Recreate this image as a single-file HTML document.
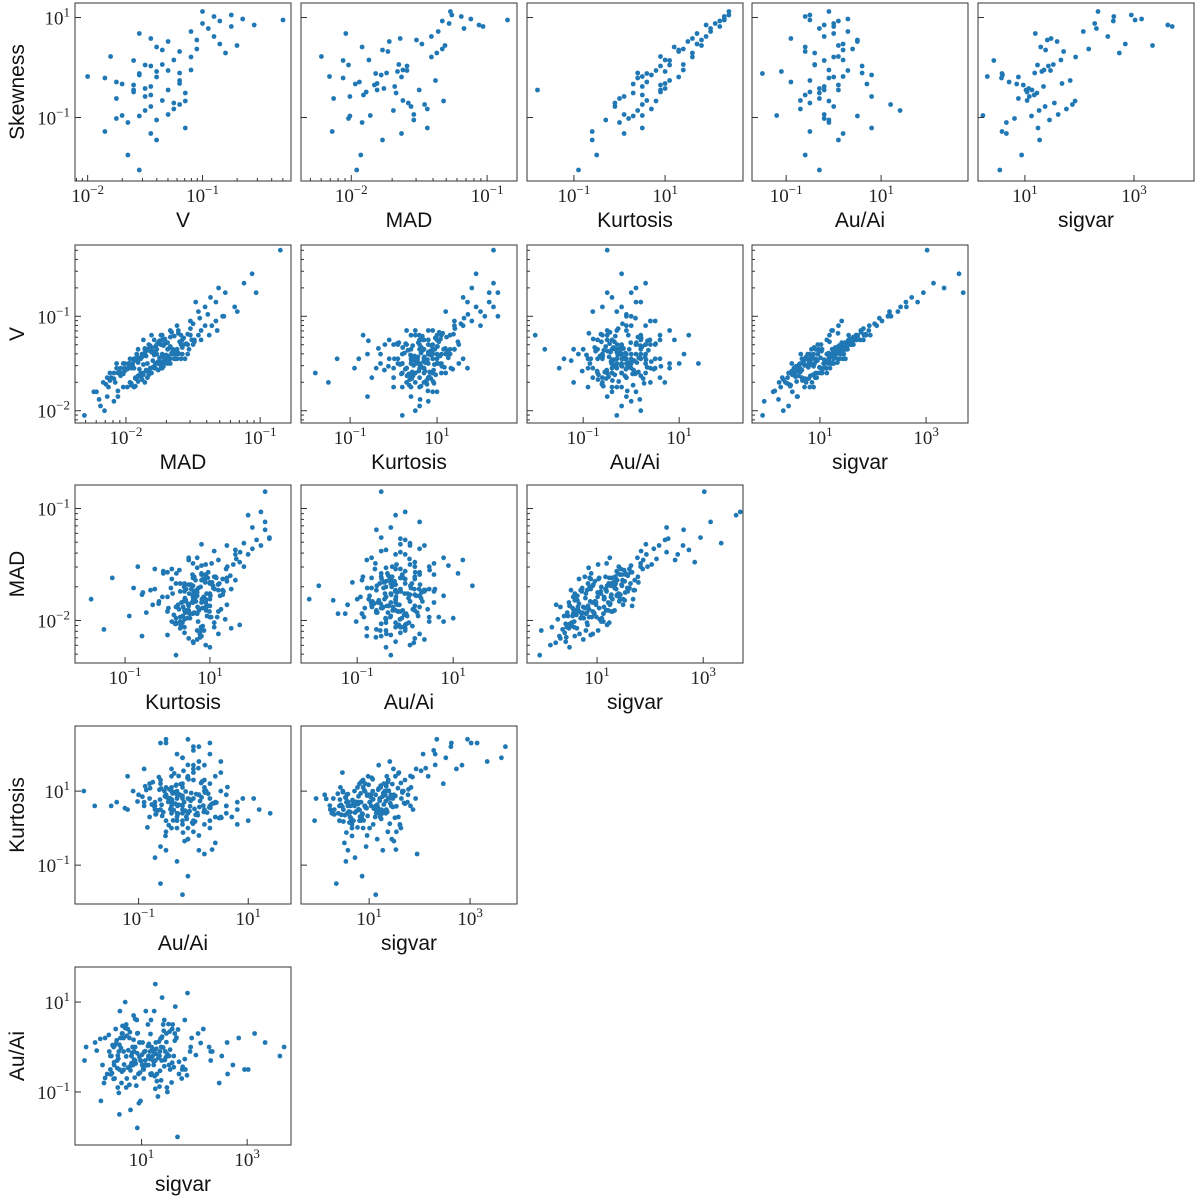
<!DOCTYPE html>
<html><head><meta charset="utf-8"><style>
html,body{margin:0;padding:0;background:#fff;}
svg{display:block;}
</style></head><body>
<svg id="chart" width="1200" height="1197" xmlns="http://www.w3.org/2000/svg"></svg>
<script>
// Per-object log10 values
const logV = [-1.45,-1.60,-1.30,-1.75,-1.20,-1.50,-1.40,-1.65,-1.10,-1.55,-1.35,-1.85,-1.25,-1.45,-0.95,-1.50,-1.40,-1.70,-1.30,-1.60,-0.85,-1.45,-1.55,-1.20,-1.95,-1.35,-1.50,-1.15,-1.65,-1.40,-0.75,-1.55,-1.30,-1.80,-1.45,-1.05,-1.60,-1.25,-1.50,-1.70,-1.35,-0.90,-1.45,-1.60,-1.20,-2.05,-1.40,-1.55,-1.10,-1.50,-0.65,-1.75,-1.30,-1.45,-1.65,-1.20,-1.35,-1.55,-0.80,-1.40,-1.85,-1.25,-1.50,-1.00,-1.60,-1.35,-1.45,-1.15,-1.70,-1.40,-0.70,-1.55,-1.30,-1.90,-1.45,-1.20,-1.60,-0.95,-1.50,-1.35,-1.75,-1.10,-1.45,-1.25,-1.65,-0.55,-1.40,-1.55,-1.30,-1.80,-1.15,-1.50,-0.90,-1.60,-1.35,-1.45,-2.00,-1.25,-1.05,-1.55,-1.40,-0.30,-1.70,-1.20,-1.50,-0.85,-1.35,-1.60,-1.30,-1.45,-1.00,-1.75,-1.40,-1.15,-1.55,-0.75,-1.35,-1.65,-1.25,-1.50,
-1.52,-1.38,-1.61,-1.27,-1.44,-1.71,-1.33,-1.49,-1.58,-1.22,-1.41,-1.66,-1.36,-1.53,-1.18,-1.47,-1.62,-1.29,-1.43,-1.56,-1.31,-1.74,-1.39,-1.51,-1.24,-1.46,-1.68,-1.34,-1.57,-1.42,-1.13,-1.48,-1.63,-1.37,-1.54,-1.28,-1.45,-1.79,-1.32,-1.59,-1.21,-1.44,-1.67,-1.35,-1.50,-1.26,-1.40,-1.58,-1.08,-1.47,-1.64,-1.30,-1.53,-1.39,-1.72,-1.23,-1.46,-1.55,-1.33,-1.61,-1.17,-1.43,-1.69,-1.36,-1.49,-1.27,-1.52,-1.41,-1.88,-1.34,-1.57,-1.25,-1.45,-1.62,-1.38,-1.02,-1.48,-1.31,-1.56,-1.42,-1.20,-1.51,-1.66,-1.37,-1.44,-1.29,-1.59,-1.35,-0.98,-1.47,-1.73,-1.32,-1.54,-1.40,-1.19,-1.63,-1.46,-1.28,-1.50,-1.39];
const logMAD = [-1.68,-2.03,-1.50,-2.13,-1.73,-1.78,-1.54,-2.14,-1.41,-2.01,-1.53,-2.06,-1.87,-1.71,-1.17,-2.01,-1.73,-1.86,-1.74,-1.89,-1.33,-1.56,-1.94,-1.74,-2.19,-1.65,-1.98,-1.32,-1.93,-1.61,-1.26,-1.82,-1.57,-2.22,-1.67,-1.52,-1.81,-1.44,-2.07,-1.97,-1.81,-1.41,-1.63,-2.09,-1.46,-2.31,-1.92,-1.73,-1.62,-1.84,-1.12,-1.94,-1.83,-1.59,-2.11,-1.38,-1.69,-2.04,-1.37,-1.88,-2.14,-1.51,-1.76,-1.28,-1.87,-1.77,-1.62,-1.67,-2.17,-1.66,-1.31,-1.79,-1.72,-2.09,-1.91,-1.52,-2.06,-1.46,-1.69,-1.84,-2.02,-1.36,-1.94,-1.58,-1.84,-1.06,-1.63,-2.07,-1.59,-2.24,-1.44,-1.72,-1.19,-1.83,-1.91,-1.64,-2.16,-1.79,-1.33,-1.96,-1.58,-0.85,-2.08,-1.81,-1.67,-1.48,-1.62,-2.12,-1.54,-1.97,-1.27,-1.99,-1.77,-1.61,-1.78,-1.03,-1.86,-1.92,-1.49,-2.02,
-1.74,-1.81,-2.02,-1.49,-1.92,-1.96,-1.58,-1.91,-1.84,-1.67,-1.70,-2.09,-1.83,-1.79,-1.61,-1.94,-1.87,-1.55,-1.88,-1.99,-1.72,-1.93,-1.66,-1.95,-1.71,-1.68,-2.12,-1.86,-1.76,-1.85,-1.52,-1.73,-2.04,-1.63,-1.97,-1.69,-1.89,-2.06,-1.78,-1.82,-1.64,-1.90,-1.88,-1.62,-1.98,-1.75,-1.65,-2.01,-1.50,-1.80,-1.89,-1.77,-1.72,-1.86,-2.15,-1.57,-1.93,-1.74,-1.81,-2.03,-1.66,-1.72,-1.91,-1.84,-1.71,-1.60,-1.98,-1.79,-2.20,-1.68,-1.85,-1.73,-1.92,-1.83,-1.64,-1.45,-1.76,-1.82,-1.90,-1.69,-1.59,-1.87,-1.93,-1.78,-1.75,-1.71,-2.05,-1.62,-1.39,-1.94,-1.96,-1.67,-1.80,-1.88,-1.54,-1.91,-1.70,-1.76,-1.97,-1.61];
const logKurt = [0.50,0.20,0.90,0.00,1.30,0.60,-0.30,0.80,1.60,0.30,0.70,0.40,1.00,-0.80,2.00,0.10,1.20,0.50,0.30,0.90,2.20,-0.10,0.70,0.40,0.60,1.40,0.20,0.80,-0.50,1.10,2.40,0.60,0.00,0.90,0.40,1.80,-1.80,0.70,1.50,0.30,0.90,1.90,0.10,0.70,0.50,0.20,1.20,-0.40,1.40,0.80,2.30,0.60,-0.20,0.90,0.40,1.10,0.60,1.70,1.60,0.20,-0.60,0.80,1.00,2.10,0.50,1.30,-1.30,0.30,0.70,1.00,1.80,0.00,1.50,0.80,0.50,-0.70,1.10,1.20,0.40,0.90,0.20,2.00,0.70,-0.10,0.60,1.90,1.30,0.30,0.80,1.00,0.50,-0.30,2.30,0.90,0.40,1.60,0.50,0.60,1.40,-0.90,0.80,2.30,-1.50,1.00,0.20,1.70,0.60,1.20,0.10,1.00,2.40,0.40,-0.60,0.90,0.70,2.20,1.40,0.00,0.60,1.10,
0.62,0.81,0.35,1.04,0.47,0.93,0.21,0.74,0.58,1.22,0.39,0.86,0.67,-0.12,1.13,0.52,0.97,0.28,0.71,1.36,0.44,0.63,0.89,0.15,1.08,0.55,0.76,-0.35,0.92,0.48,1.41,0.69,0.31,0.84,1.17,0.57,0.02,0.79,1.01,0.43,0.66,1.26,0.37,0.95,0.53,-0.58,0.88,0.72,1.55,0.41,0.82,0.60,1.11,0.25,0.77,0.96,0.49,1.32,0.64,0.18,1.05,0.56,0.91,0.33,0.73,1.48,0.46,0.85,0.61,1.19,-0.21,0.68,0.99,0.38,0.80,1.62,0.51,0.87,0.27,1.07,0.59,0.94,0.42,1.24,0.70,0.08,0.83,1.15,1.71,0.54,0.36,1.00,0.65,0.90,1.38,0.45,0.78,0.12,1.03,0.63];
const logAuAi = [-0.20,-0.50,0.10,-0.30,-0.60,0.30,-0.10,-0.80,0.00,0.50,-0.40,-0.10,0.20,-0.70,-0.30,0.80,-0.20,-1.20,0.40,-0.50,0.10,0.00,-0.90,0.60,-0.20,-0.40,1.00,-0.10,-0.60,0.20,-0.50,-1.50,0.30,0.10,-0.30,0.50,-0.20,-0.70,0.00,0.70,-1.00,-0.20,0.20,-0.40,1.20,-0.30,-0.60,0.40,-0.10,-0.20,0.30,-0.90,0.10,0.60,-0.10,-0.50,-1.80,0.00,-0.40,0.30,-0.50,0.90,-0.30,0.00,-0.70,0.20,-0.10,-0.30,0.40,-1.10,0.10,-0.40,0.50,0.00,-0.60,0.20,-0.20,-0.80,1.40,-0.30,-0.20,0.30,-1.40,-0.50,0.60,-0.20,0.00,-0.80,0.30,-0.40,0.80,-0.10,-0.60,0.10,-0.20,-0.90,0.20,-0.40,0.40,-0.30,1.10,-0.50,-0.60,-2.00,0.00,0.20,-0.70,0.30,-0.20,0.50,-0.10,-0.40,0.10,-0.50,0.80,0.00,-1.20,-0.10,0.60,-0.40,
-0.21,-0.43,0.08,-0.62,-0.15,0.27,-0.37,-0.05,-0.71,0.14,-0.28,-0.52,0.36,-0.19,-0.88,0.02,-0.34,0.51,-0.46,-0.11,0.19,-0.58,-0.24,-0.02,-0.79,0.31,-0.39,-0.16,0.05,-0.65,-0.27,0.42,-0.13,-0.49,-0.31,0.11,-0.84,-0.08,0.23,-0.55,-0.33,0.16,-0.69,-0.04,-0.41,0.34,-0.22,-1.02,-0.18,0.07,-0.47,-0.29,0.62,-0.12,-0.61,0.21,-0.36,-0.09,-0.76,0.03,-0.44,0.29,-0.26,-0.57,0.12,-0.35,-0.07,-0.93,0.18,-0.23,-0.51,0.39,-0.14,-0.68,-0.30,0.09,-0.42,-0.20,0.47,-0.59,-0.06,-0.38,0.25,-0.74,-0.17,-0.45,0.15,-0.32,-0.10,-1.25,0.04,-0.53,0.33,-0.25,-0.63,0.20,-0.40,-0.01,-0.86,-0.27];
const logSigvar = [1.34,0.41,1.02,0.88,1.71,0.63,1.45,0.29,1.93,1.12,0.84,0.57,1.66,0.72,2.31,1.08,0.81,0.23,1.58,1.04,2.62,1.37,0.55,1.18,0.41,1.52,0.69,1.92,0.94,0.77,2.95,0.58,1.63,0.12,1.26,1.41,1.13,1.76,0.47,0.85,1.49,2.52,0.66,1.02,1.87,-0.08,1.29,0.51,1.35,1.21,3.14,0.71,0.96,1.43,0.39,1.83,0.92,1.19,2.73,0.64,0.58,1.64,1.07,2.28,0.49,1.38,0.86,1.22,0.74,1.31,3.34,1.01,1.59,-0.05,1.17,1.95,0.43,2.47,1.26,0.98,0.81,2.07,0.79,1.54,0.91,3.62,0.88,0.62,1.47,0.48,1.24,1.16,2.63,0.97,1.33,1.48,0.31,1.13,2.17,0.54,1.39,3.02,0.35,1.68,0.83,2.84,1.04,0.92,1.61,0.71,2.34,0.26,1.27,1.77,0.59,3.70,0.98,0.66,1.82,1.23,
0.71,1.43,0.52,1.18,1.27,0.38,0.89,1.21,0.47,1.63,0.86,0.79,1.42,0.55,1.34,1.12,0.48,1.51,0.74,1.05,1.36,0.44,1.32,0.61,1.57,0.93,0.67,1.49,0.58,1.25,1.82,0.69,0.82,1.03,0.99,1.47,0.77,0.15,1.39,0.63,1.71,0.85,0.31,1.28,1.09,1.53,0.96,0.57,2.03,1.14,0.54,1.44,0.88,1.24,0.42,1.66,0.81,1.07,1.29,0.49,1.78,1.17,0.56,0.97,1.33,1.58,0.75,1.26,0.22,1.46,0.66,1.69,0.92,0.87,1.38,2.12,0.79,1.52,0.64,1.19,1.54,0.83,0.72,1.37,1.01,1.61,0.53,1.23,2.31,0.95,0.45,1.35,0.78,1.13,1.86,0.60,1.08,1.41,0.90,1.16];
// skewness measured only for a subset (null = not measured)
const logSkew = [-0.38,null,-0.45,-0.62,0.32,null,-1.05,null,0.21,-0.97,null,-0.21,0.15,null,0.78,-0.58,null,-0.96,null,-0.49,0.93,-0.78,null,-0.11,null,0.06,null,-0.67,-1.75,null,1.05,-0.12,null,0.22,null,0.55,-0.45,-0.83,null,-0.33,null,0.62,-1.32,null,-0.74,null,0.41,null,-0.05,null,0.97,-0.29,null,0.03,null,-0.26,null,0.68,0.29,null,-1.28,null,-0.42,0.88,null,0.35,null,-0.51,null,-0.08,0.44,null,0.52,null,-0.55,null,0.14,null,-0.86,null,-1.02,0.72,null,-0.71,null,0.85,-0.19,null,-0.06,null,-1.21,null,1.02,-0.35,null,0.58,-0.18,null,0.37,-2.05,null,0.95,null,-0.32,null,0.47,-0.66,null,-0.94,null,1.12,null,-1.45,null,-0.15,0.82,null,-1.10,null,0.05,
null,null,null,null,null,null,null,null,null,null,null,null,null,null,null,null,null,null,null,null,null,null,null,null,null,null,null,null,null,null,null,null,null,null,null,null,null,null,null,null,null,null,null,null,null,null,null,null,null,null,null,null,null,null,null,null,null,null,null,null,null,null,null,null,null,null,null,null,null,null,null,null,null,null,null,null,null,null,null,null,null,null,null,null,null,null,null,null,null,null,null,null,null,null,null,null,null,null,null,null];

const vars = {V:logV, MAD:logMAD, Kurtosis:logKurt, 'Au/Ai':logAuAi, sigvar:logSigvar, Skewness:logSkew};
const rowVars = ['Skewness','V','MAD','Kurtosis','Au/Ai'];
const colVarsByRow = [['V','MAD','Kurtosis','Au/Ai','sigvar'],['MAD','Kurtosis','Au/Ai','sigvar'],['Kurtosis','Au/Ai','sigvar'],['Au/Ai','sigvar'],['sigvar']];
const yLims = [[-2.27,1.29],[-2.13,-0.245],[-2.38,-0.79],[-2.05,2.76],[-2.18,1.78]];
const xLims = [
 [[-2.11,-0.23],[-2.37,-0.78],[-2.03,2.71],[-1.72,2.83],[0.14,4.1]],
 [[-2.38,-0.77],[-2.13,2.84],[-2.17,2.33],[-0.28,3.79]],
 [[-2.18,2.91],[-2.17,2.33],[-0.32,3.75]],
 [[-2.16,1.78],[-0.35,3.93]],
 [[-0.26,3.83]]
];
const colLeft=[75,301,527,752,978], rowTop=[3,245,485,726,967], PW=216, PH=178;
const NS='http://www.w3.org/2000/svg';
const svg=document.getElementById('chart');
function mk(tag,attrs,parent){const e=document.createElementNS(NS,tag);for(const k in attrs)e.setAttribute(k,attrs[k]);(parent||svg).appendChild(e);return e;}
function expLabel(parent,x,y,exp,anchor){
  const t=mk('text',{x:x,y:y,'font-family':'"Liberation Serif",serif','font-size':'19','fill':'#222','text-anchor':anchor},parent);
  
  
  t.appendChild(document.createTextNode('10'));
  const s=mk('tspan',{'font-size':'13',dy:'-8'},t);
  s.textContent=(exp<0?'\u2212':'')+Math.abs(exp);
  return t;
}
function ticks(g,lo,hi,axis,pos,a,b,showLabels){
  const span=hi-lo, many=span>=3;
  for(let d=Math.floor(lo);d<=Math.ceil(hi);d++){
    if(d>=lo&&d<=hi&&(!many||Math.abs(d%2)===1)){
      const p=pos(d);
      if(axis==='x'){const l=mk('line',{x1:p,x2:p,y1:b,y2:b-6,stroke:'#333','stroke-width':1},g);if(showLabels)expLabel(g,p,b+21,d,'middle');}
      else{const l=mk('line',{x1:a,x2:a+6,y1:p,y2:p,stroke:'#333','stroke-width':1},g);if(showLabels)expLabel(g,a-5,p+7,d,'end');}
    }
    if(!many){for(let k=2;k<10;k++){const v=d+Math.log10(k);if(v>lo&&v<hi){const p=pos(v);
      const l=axis==='x'?mk('line',{x1:p,x2:p,y1:b,y2:b-3,stroke:'#333','stroke-width':1},g):mk('line',{x1:a,x2:a+3,y1:p,y2:p,stroke:'#333','stroke-width':1},g);
      }}}
  }
}
rowVars.forEach((yv,r)=>{
  colVarsByRow[r].forEach((xv,c)=>{
    const L=colLeft[c],T=rowTop[r],R=L+PW,B=T+PH;
    const [x0,x1]=xLims[r][c],[y0,y1]=yLims[r];
    const sx=v=>L+(v-x0)/(x1-x0)*PW, sy=v=>B-(v-y0)/(y1-y0)*PH;
    const g=mk('g',{});
    
    
    const xs=vars[xv], ys=vars[yv];
    for(let i=0;i<xs.length;i++){
      if(ys[i]===null||xs[i]===null)continue;
      const cx=sx(xs[i]), cy=sy(ys[i]);
      if(cx<L||cx>R||cy<T||cy>B)continue;
      const d=mk('circle',{cx:cx.toFixed(1),cy:cy.toFixed(1),r:2.4,fill:'#1f77b4'},g);
      
      
    }
    const fr=mk('rect',{x:L,y:T,width:PW,height:PH,fill:'none',stroke:'#333','stroke-width':1},g);
    
    
    ticks(g,x0,x1,'x',sx,L,B,true);
    ticks(g,y0,y1,'y',sy,L,B,c===0);
    const xl=mk('text',{x:L+PW/2,y:B+46,'font-family':'"Liberation Sans","DejaVu Sans",sans-serif','font-size':'21','fill':'#111','text-anchor':'middle'},g);
    
    
    xl.textContent=xv;
    if(c===0){
      const yl=mk('text',{x:0,y:0,transform:'translate(24,'+(T+PH/2)+') rotate(-90)','font-family':'"Liberation Sans","DejaVu Sans",sans-serif','font-size':'21','fill':'#111','text-anchor':'middle'},g);
      
      
      yl.textContent=yv;
    }
  });
});
</script>
</body></html>
